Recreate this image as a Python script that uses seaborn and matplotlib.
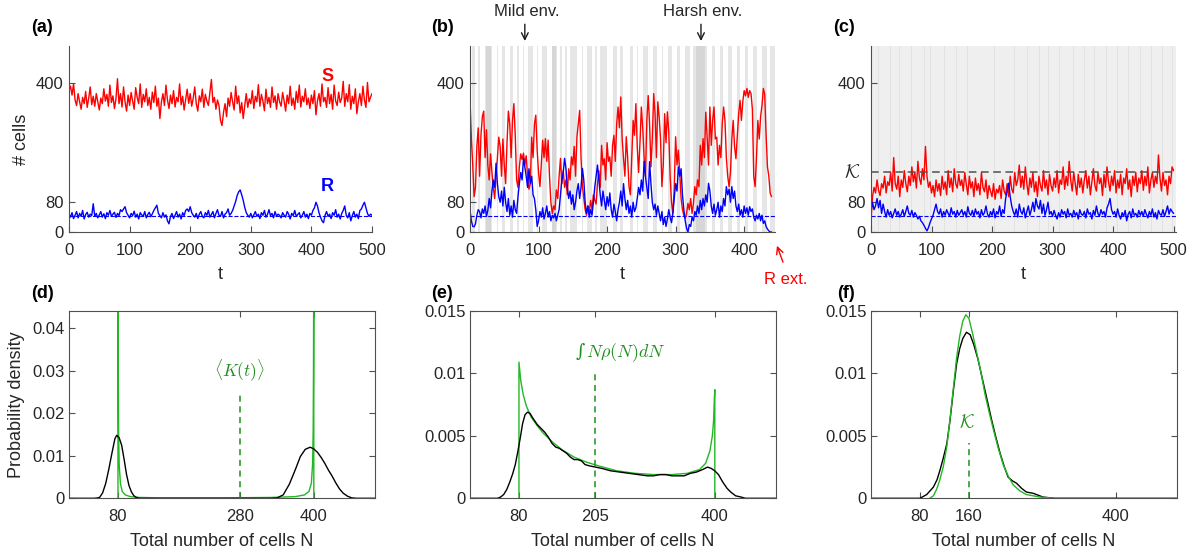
import numpy as np
import matplotlib
matplotlib.use("Agg")
import matplotlib.pyplot as plt
import matplotlib.transforms as mtransforms
import seaborn as sns

# ---------------- data ----------------
# (a) time series, sampled every 2.5 time units
STEP_A = 2.5
S_a = [380, 392, 368, 398, 355, 340, 372, 350, 330, 362, 345, 378, 335, 360, 390, 342, 365, 338, 372, 350,
       328, 360, 345, 385, 352, 370, 338, 395, 348, 366, 332, 358, 412, 345, 372, 336, 390, 350, 325, 368,
       340, 375, 352, 330, 388, 362, 345, 398, 335, 370, 350, 385, 340, 362, 330, 376, 348, 392, 338, 360,
       305, 350, 372, 340, 395, 355, 332, 368, 345, 380, 336, 362, 350, 398, 342, 365, 328, 355, 384, 346,
       372, 338, 360, 390, 345, 325, 366, 350, 384, 335, 370, 352, 340, 376, 410, 348, 362, 330, 355, 340,
       300, 286, 322, 345, 310, 360, 338, 375, 350, 328, 392, 345, 366, 320, 348, 305, 340, 372, 335, 358,
       345, 380, 332, 365, 350, 396, 338, 370, 352, 326, 384, 345, 362, 335, 390, 348, 366, 330, 372, 350,
       338, 375, 352, 325, 368, 345, 392, 340, 360, 330, 378, 348, 395, 336, 365, 350, 385, 342, 360, 332,
       368, 345, 380, 315, 352, 372, 338, 398, 350, 362, 335, 388, 345, 370, 330, 395, 352, 340, 376, 348,
       360, 405, 338, 372, 350, 396, 330, 365, 345, 385, 318, 350, 372, 340, 392, 355, 335, 402, 350, 362, 372]
R_a = [48, 40, 52, 36, 45, 55, 38, 50, 42, 58, 35, 47, 53, 40, 48, 44, 76, 42, 50, 38,
       46, 55, 40, 49, 36, 52, 45, 58, 42, 48, 53, 39, 50, 44, 60, 55, 62, 68, 52, 45,
       38, 50, 44, 56, 40, 48, 35, 52, 46, 42, 55, 38, 47, 53, 41, 49, 58, 65, 72, 50,
       44, 38, 52, 40, 46, 30, 22, 42, 50, 36, 45, 55, 40, 48, 35, 52, 44, 58, 62, 55,
       68, 52, 45, 40, 50, 36, 48, 55, 42, 38, 52, 45, 58, 40, 47, 55, 38, 50, 60, 45,
       42, 55, 38, 48, 52, 62, 45, 50, 58, 70, 82, 98, 108, 113, 100, 85, 66, 52, 45, 40,
       50, 38, 46, 55, 42, 48, 36, 52, 45, 58, 40, 47, 60, 44, 50, 38, 55, 42, 48, 45,
       38, 52, 45, 40, 55, 48, 35, 50, 44, 58, 42, 47, 52, 38, 45, 55, 40, 48, 36, 50,
       45, 58, 65, 80, 70, 52, 40, 30, 25, 45, 55, 42, 48, 36, 52, 45, 60, 40, 48, 35,
       50, 58, 70, 45, 38, 52, 30, 44, 55, 40, 48, 36, 58, 62, 72, 80, 65, 50, 42, 48, 45]

# (b) time series, sampled every 2 time units (R goes extinct)
STEP_B = 2.0
S_b = [360, 250, 180, 95, 120, 230, 280, 150, 260, 310,
       325, 200, 275, 180, 140, 210, 160, 120, 90, 150,
       200, 255, 230, 150, 250, 180, 130, 240, 325, 290,
       200, 300, 345, 260, 140, 120, 175, 210, 195, 212,
       180, 205, 150, 115, 130, 255, 200, 290, 314, 220,
       160, 122, 180, 247, 200, 251, 190, 247, 150, 80,
       50, 70, 60, 113, 90, 150, 198, 130, 165, 120,
       140, 100, 170, 140, 202, 180, 230, 150, 255, 290,
       327, 200, 122, 90, 60, 45, 70, 55, 85, 60,
       100, 86, 75, 130, 165, 120, 233, 180, 197, 140,
       240, 190, 202, 150, 233, 260, 190, 290, 336, 280,
       363, 250, 197, 150, 256, 200, 122, 100, 200, 300,
       260, 345, 230, 160, 240, 336, 280, 200, 150, 300,
       367, 290, 175, 250, 372, 318, 200, 350, 309, 250,
       122, 180, 318, 240, 323, 270, 150, 80, 50, 120,
       256, 180, 220, 160, 90, 60, 45, 37, 50, 77,
       60, 90, 50, 77, 122, 100, 140, 122, 233, 180,
       251, 200, 322, 255, 180, 336, 233, 300, 336, 250,
       255, 180, 233, 200, 290, 336, 300, 200, 150, 122,
       160, 250, 300, 230, 197, 260, 318, 354, 300, 350,
       380, 366, 386, 362, 380, 372, 330, 150, 122, 200,
       300, 250, 310, 340, 386, 370, 260, 175, 150, 104, 95]
R_b = [60, 30, 15, 14, 22, 45, 60, 55, 38, 62,
       50, 70, 42, 58, 90, 65, 110, 140, 120, 185,
       130, 95, 80, 110, 70, 120, 80, 55, 90, 45,
       70, 40, 85, 60, 50, 95, 130, 160, 140, 198,
       175, 150, 120, 170, 130, 150, 100, 90, 60, 15,
       30, 55, 40, 65, 35, 50, 70, 40, 55, 30,
       45, 38, 50, 30, 45, 60, 100, 140, 160, 198,
       170, 120, 90, 110, 75, 100, 60, 80, 110, 130,
       90, 120, 171, 140, 80, 50, 70, 40, 60, 45,
       80, 120, 150, 180, 140, 100, 70, 110, 85, 60,
       95, 70, 105, 60, 40, 75, 55, 30, 60, 80,
       110, 70, 130, 90, 60, 85, 50, 70, 40, 80,
       55, 65, 90, 120, 100, 140, 110, 190, 150, 120,
       90, 189, 130, 80, 60, 75, 45, 70, 50, 30,
       55, 20, 40, 15, 35, 60, 40, 25, 50, 90,
       130, 110, 175, 150, 170, 100, 60, 30, 10, 0,
       20, 15, 40, 30, 55, 45, 70, 50, 85, 60,
       90, 70, 100, 80, 131, 110, 70, 50, 75, 45,
       60, 80, 40, 70, 55, 90, 70, 122, 100, 115,
       80, 122, 90, 110, 70, 55, 75, 45, 60, 40,
       70, 50, 65, 45, 68, 55, 62, 40, 30, 45,
       35, 50, 30, 45, 23, 30, 15, 8, 3, 0, 0]
# harsh-environment intervals in (b)
B_HARSH = [(2.4, 7.3), (12.2, 14.6), (21.9, 31.6), (38.9, 41.4), (46.2, 51.1), (58.4, 63.3),
           (68.1, 72.0), (76.9, 78.8), (85.2, 92.5), (97.3, 99.8), (104.6, 111.9), (119.2, 126.5),
           (131.4, 133.8), (138.7, 141.1), (146.0, 155.7), (163.0, 164.5), (170.3, 177.6),
           (182.5, 184.9), (189.8, 199.5), (209.2, 214.1), (219.0, 223.8), (233.6, 238.4),
           (243.3, 245.7), (253.0, 260.3), (267.6, 272.5), (279.8, 282.2), (289.5, 294.4),
           (301.7, 306.6), (314.0, 321.2), (326.0, 345.5), (352.8, 357.7), (365.0, 369.8),
           (377.1, 382.0), (389.3, 394.2), (401.5, 406.3), (413.6, 418.5), (425.8, 433.1),
           (438.0, 445.3)]
B_DARK = [(24.0, 30.0), (120.0, 125.0), (330.0, 343.0)]
B_EXT = 445

# (c) time series, sampled every 2.5 time units
STEP_C = 2.5
S_c = [30, 95, 120, 105, 140, 112, 98, 130, 118, 150, 105, 135, 125, 160, 110, 200, 130, 115, 150, 95,
       140, 120, 165, 130, 108, 150, 125, 175, 135, 160, 118, 190, 145, 128, 170, 140, 230, 150, 120, 135,
       105, 125, 95, 140, 110, 130, 98, 150, 115, 135, 100, 165, 120, 145, 108, 170, 130, 118, 155, 125,
       140, 110, 160, 128, 100, 150, 118, 135, 95, 145, 112, 130, 100, 160, 120, 108, 140, 90, 125, 110,
       95, 130, 88, 115, 105, 125, 90, 140, 110, 100, 130, 95, 150, 115, 105, 160, 125, 140, 180, 120,
       150, 115, 175, 130, 100, 145, 120, 160, 108, 135, 95, 150, 125, 110, 165, 118, 140, 100, 155, 125,
       110, 145, 120, 165, 105, 140, 128, 175, 115, 150, 125, 190, 140, 110, 160, 130, 100, 155, 120, 145,
       105, 140, 165, 118, 150, 100, 135, 170, 125, 110, 160, 130, 145, 98, 155, 120, 175, 135, 110, 150,
       125, 165, 105, 140, 118, 155, 100, 145, 130, 170, 115, 140, 95, 150, 125, 160, 108, 145, 130, 165,
       112, 150, 125, 175, 105, 140, 160, 120, 150, 130, 207, 145, 110, 160, 125, 140, 100, 150, 130, 175, 165]
R_c = [55, 80, 60, 70, 90, 65, 85, 50, 75, 55, 40, 60, 45, 55, 38, 50, 62, 45, 55, 40,
       48, 60, 42, 55, 70, 50, 45, 58, 40, 52, 45, 35, 42, 30, 25, 18, 10, 3, 12, 25,
       35, 45, 60, 75, 55, 48, 62, 40, 55, 45, 60, 50, 42, 65, 48, 55, 40, 58, 45, 52,
       60, 45, 55, 40, 68, 50, 45, 58, 42, 62, 48, 55, 38, 60, 45, 52, 70, 48, 40, 55,
       45, 62, 38, 55, 48, 70, 42, 60, 50, 90, 110, 131, 95, 70, 55, 45, 62, 40, 75, 55,
       48, 65, 38, 55, 70, 45, 60, 80, 55, 90, 70, 62, 85, 50, 75, 45, 60, 80, 48, 55,
       42, 58, 45, 35, 52, 40, 60, 48, 55, 38, 62, 45, 50, 40, 58, 45, 52, 35, 60, 48,
       45, 55, 38, 62, 48, 52, 35, 58, 45, 70, 50, 42, 60, 48, 55, 40, 65, 75, 90, 60,
       48, 55, 40, 62, 45, 35, 52, 42, 58, 30, 48, 55, 38, 62, 45, 50, 40, 58, 45, 55,
       42, 60, 48, 38, 55, 45, 62, 40, 52, 35, 58, 48, 45, 60, 42, 55, 70, 48, 62, 55, 50]
C_STRIPES = [12, 31, 47, 66, 88, 97, 121, 140, 158, 176, 203, 219, 236, 258, 277, 293, 311,
             334, 352, 368, 389, 407, 425, 444, 463, 481, 497]
R_MEAN = 43
K_VAL = 160

# (d) densities
D_N_black = [0, 40, 45, 50, 55, 60, 65, 70, 75, 78, 82, 86, 90, 94, 98, 102, 106, 110, 115,
             330, 340, 350, 360, 370, 378, 386, 394, 400, 406, 412, 418, 424, 430, 436, 442,
             448, 455, 462, 470, 500]
D_black = [0, 0, 0.00005, 0.0002, 0.0013, 0.0035, 0.0068, 0.0105, 0.0140, 0.0148, 0.0142,
           0.0125, 0.0092, 0.0056, 0.0030, 0.0015, 0.0006, 0.0002, 0,
           0, 0.0001, 0.0008, 0.0033, 0.0068, 0.0098, 0.0115, 0.0120, 0.0116, 0.0108, 0.0096,
           0.0082, 0.0066, 0.0052, 0.0036, 0.0022, 0.0012, 0.0005, 0.0001, 0, 0]
D_N_green = [80, 80, 80.5, 81, 82, 84, 87, 92, 100, 115, 150, 250, 330, 370, 385, 392, 396,
             398, 399, 399.5, 400, 400]
D_green = [0, 0.06, 0.03, 0.016, 0.008, 0.0035, 0.0016, 0.0008, 0.0004, 0.0002, 0.0001,
           0.0001, 0.0002, 0.0004, 0.0008, 0.0016, 0.0035, 0.008, 0.016, 0.03, 0.06, 0]
D_MARK, D_MARK_H = 280, 0.0243

# (e) densities
E_N_black = [0, 45, 50, 55, 60, 65, 70, 74, 78, 82, 86, 90, 94, 98, 103, 110, 116, 122, 128,
             134, 140, 146, 152, 158, 164, 170, 176, 182, 188, 195, 205, 215, 230, 245, 260,
             275, 290, 300, 310, 320, 330, 340, 350, 360, 370, 380, 388, 394, 400, 406, 413,
             420, 426, 434, 443, 450, 500]
E_black = [0, 0, 0.0001, 0.0003, 0.0007, 0.0013, 0.0020, 0.0027, 0.0037, 0.0048, 0.0060,
           0.0067, 0.0069, 0.0068, 0.0064, 0.0059, 0.0056, 0.0053, 0.0049, 0.0044, 0.0041,
           0.0040, 0.0038, 0.0036, 0.0033, 0.0031, 0.0031, 0.0030, 0.0027, 0.0026, 0.0025,
           0.0024, 0.0022, 0.0021, 0.0020, 0.0019, 0.0018, 0.0018, 0.0019, 0.0019, 0.0018,
           0.0018, 0.0018, 0.0020, 0.0021, 0.0023, 0.0025, 0.0024, 0.0022, 0.0019, 0.0013,
           0.0008, 0.0005, 0.0002, 0.0001, 0, 0]
E_N_green = [80, 80, 83, 87, 92, 100, 110, 120, 135, 150, 170, 190, 210, 240, 270, 300, 330,
             355, 375, 385, 392, 396, 398, 399.3, 400, 400]
E_green = [0, 0.0109, 0.0094, 0.0083, 0.0074, 0.0065, 0.0058, 0.0052, 0.0045, 0.0039, 0.0033,
           0.0029, 0.0026, 0.0022, 0.0020, 0.0019, 0.0019, 0.0020, 0.0023, 0.0028, 0.0038,
           0.0050, 0.0062, 0.0080, 0.0087, 0]
E_MARK, E_MARK_H = 205, 0.0101

# (f) densities
F_N_black = [0, 80, 91, 102, 108, 113, 118, 124, 129, 135, 140, 145, 150, 156, 162, 168, 175,
             180, 186, 192, 197, 204, 211, 218, 224, 231, 238, 246, 254, 265, 281, 300, 500]
F_black = [0, 0, 0.0003, 0.0009, 0.0015, 0.0023, 0.0032, 0.0044, 0.0062, 0.0088, 0.0108,
           0.0120, 0.0128, 0.0133, 0.0131, 0.0123, 0.0111, 0.0100, 0.0087, 0.0074, 0.0063,
           0.0049, 0.0036, 0.0025, 0.0017, 0.0014, 0.0012, 0.0008, 0.0005, 0.0004, 0.0001, 0, 0]
F_N_green = [96, 102, 107, 112, 118, 124, 129, 135, 140, 145, 150, 155, 160, 166, 173, 180,
             186, 193, 200, 208, 216, 224, 232, 243, 254, 276, 300, 400]
F_green = [0, 0.0002, 0.0007, 0.0014, 0.0025, 0.0042, 0.0063, 0.0090, 0.0113, 0.0130, 0.0142,
           0.0147, 0.0144, 0.0132, 0.0116, 0.0100, 0.0084, 0.0069, 0.0055, 0.0040, 0.0027,
           0.0018, 0.0011, 0.0006, 0.0003, 0.0001, 0, 0]
F_MARK, F_MARK_H = 160, 0.00445

# ---------------- style ----------------
sns.set_theme(style="ticks")
plt.rcParams.update({
    "font.family": ["Liberation Sans", "DejaVu Sans"],
    "mathtext.fontset": "cm",
    "axes.edgecolor": "#505050",
    "axes.linewidth": 0.8,
    "xtick.direction": "in", "ytick.direction": "in",
    "xtick.color": "#505050", "ytick.color": "#505050",
    "xtick.labelcolor": "#262626", "ytick.labelcolor": "#262626",
    "xtick.labelsize": 12, "ytick.labelsize": 12,
    "xtick.major.size": 4, "ytick.major.size": 4,
    "xtick.major.width": 0.8, "ytick.major.width": 0.8,
    "axes.facecolor": "white",
})

W, H = 1195, 552
fig = plt.figure(figsize=(W / 100, H / 100), dpi=100)


def add_ax(l, t, r, b):
    return fig.add_axes([l / W, 1 - b / H, (r - l) / W, (b - t) / H])


RED, BLUE = "#ff0000", "#0000ff"
GREEN, DGREEN = "#22b822", "#1f8f1f"
TXT = "#262626"


def line(ax, x, y, color, lw=1.0, z=2):
    sns.lineplot(x=np.asarray(x, float), y=np.asarray(y, float), ax=ax, color=color,
                 linewidth=lw, estimator=None, sort=False, zorder=z)


def style_top(ax, xmax, xticks):
    ax.set_xlim(0, xmax)
    ax.set_ylim(0, 500)
    ax.set_xticks(xticks)
    ax.set_yticks([0, 80, 400])
    ax.spines["top"].set_visible(False)
    ax.spines["right"].set_visible(False)
    ax.tick_params(axis="x", pad=8)
    ax.tick_params(axis="y", pad=4)
    ax.set_xlabel("")
    ax.set_ylabel("")


def style_bottom(ax, xticks, ymax, yticks, ylabels):
    ax.set_xlim(0, 500)
    ax.set_ylim(0, ymax)
    ax.set_xticks(xticks)
    ax.set_yticks(yticks)
    ax.set_yticklabels(ylabels)
    ax.tick_params(top=True, right=True)
    ax.tick_params(axis="x", pad=8)
    ax.tick_params(axis="y", pad=3)
    ax.set_xlabel("")
    ax.set_ylabel("")


# ---------------- (a) ----------------
axa = add_ax(69, 46, 372, 232)
ta = np.arange(len(S_a)) * STEP_A
line(axa, ta, S_a, RED)
line(axa, ta, R_a, BLUE)
axa.axhline(R_MEAN, color=BLUE, ls="--", lw=0.8, zorder=1)
style_top(axa, 500, [0, 100, 200, 300, 400, 500])
axa.text(427, 419, "S", color=RED, fontweight="bold", fontsize=13, ha="center", va="center")
axa.text(427, 121, "R", color=BLUE, fontweight="bold", fontsize=13, ha="center", va="center")

# ---------------- (b) ----------------
axb = add_ax(470, 46, 775, 232)
for a, b in B_HARSH:
    axb.axvspan(a, b, color="#e6e6e6", lw=0, zorder=0)
for a, b in B_DARK:
    axb.axvspan(a, b, color="#d6d6d6", lw=0, zorder=0)
tb_s = np.arange(len(S_b)) * STEP_B
tb_r = np.arange(len(R_b)) * STEP_B
line(axb, tb_s, S_b, RED)
line(axb, tb_r, R_b, BLUE)
axb.axhline(R_MEAN, color=BLUE, ls="--", lw=0.8, zorder=1)
style_top(axb, B_EXT, [0, 100, 200, 300, 400])
for xa, lab, xt in [(80, "Mild env.", 83), (337, "Harsh env.", 340)]:
    axb.annotate("", xy=(xa, 506), xytext=(xa, 566),
                 arrowprops=dict(arrowstyle="->", color="k", lw=1.0, mutation_scale=12),
                 annotation_clip=False)
    axb.text(xt, 592, lab, fontsize=12, ha="center", va="center", color=TXT)
axb.annotate("", xy=(446.5, -30), xytext=(458, -88),
             arrowprops=dict(arrowstyle="->", color=RED, lw=1.0, mutation_scale=12),
             annotation_clip=False)
axb.text(461, -128, "R ext.", color=RED, fontsize=12, ha="center", va="center", clip_on=False)

# ---------------- (c) ----------------
axc = add_ax(871, 46, 1176, 232)
axc.set_facecolor("#efefef")
for s in C_STRIPES:
    axc.axvspan(s, s + 1.5, color="#e2e2e2", lw=0, zorder=0)
tc = np.arange(len(S_c)) * STEP_C
line(axc, tc, S_c, RED)
line(axc, tc, R_c, BLUE)
axc.axhline(R_MEAN, color=BLUE, ls="--", lw=0.8, zorder=1)
axc.axhline(K_VAL, color="#505050", ls=(0, (5, 3)), lw=1.1, zorder=3)
style_top(axc, 504, [0, 100, 200, 300, 400, 500])
trans_c = mtransforms.blended_transform_factory(axc.transAxes, axc.transData)
axc.text(-0.035, K_VAL, r"$\mathcal{K}$", transform=trans_c, fontsize=14, ha="right",
         va="center", color=TXT)

# ---------------- (d) ----------------
axd = add_ax(69, 311, 375, 498.3)
line(axd, D_N_green, D_green, GREEN)
line(axd, D_N_black, D_black, "black")
axd.plot([D_MARK, D_MARK], [0, D_MARK_H], color=DGREEN, ls=(0, (4, 3)), lw=1.1)
axd.text(D_MARK - 2, 0.0298, r"$\langle K(t)\rangle$", color=DGREEN, fontsize=12.5,
         ha="center", va="center")
style_bottom(axd, [80, 280, 400], 0.044, [0, 0.01, 0.02, 0.03, 0.04],
             ["0", "0.01", "0.02", "0.03", "0.04"])

# ---------------- (e) ----------------
axe = add_ax(470, 311, 776, 498.3)
line(axe, E_N_green, E_green, GREEN)
line(axe, E_N_black, E_black, "black")
axe.plot([E_MARK, E_MARK], [0, E_MARK_H], color=DGREEN, ls=(0, (4, 3)), lw=1.1)
axe.text(180, 0.0117, "\u222b", family=["DejaVu Serif"], fontstyle="italic", color=DGREEN,
         fontsize=13, ha="center", va="center")
axe.text(189, 0.0117, r"$N\rho(N)dN$", color=DGREEN, fontsize=13, ha="left", va="center")
style_bottom(axe, [80, 205, 400], 0.015, [0, 0.005, 0.01, 0.015],
             ["0", "0.005", "0.01", "0.015"])

# ---------------- (f) ----------------
axf = add_ax(871, 311, 1177, 498.3)
line(axf, F_N_black, F_black, "black")
line(axf, F_N_green, F_green, GREEN)
axf.plot([F_MARK, F_MARK], [0, F_MARK_H], color=DGREEN, ls=(0, (4, 3)), lw=1.1)
axf.text(156, 0.0061, r"$\mathcal{K}$", color=DGREEN, fontsize=13.5, ha="center", va="center")
style_bottom(axf, [80, 160, 400], 0.015, [0, 0.005, 0.01, 0.015],
             ["0", "0.005", "0.01", "0.015"])

# ---------------- labels ----------------
for x, y, s in [(42, 28, "(a)"), (442.5, 28, "(b)"), (844, 28, "(c)"),
                (42, 293.5, "(d)"), (442.5, 293.5, "(e)"), (845.5, 293.5, "(f)")]:
    fig.text(x / W, 1 - y / H, s, fontsize=13, fontweight="bold", ha="center", va="center",
             color="black")

for ax in (axa, axb, axc):
    bb = ax.get_position()
    fig.text(bb.x0 + bb.width / 2, 1 - 279 / H, "t", fontsize=13, ha="center",
             va="baseline", color=TXT)
for ax in (axd, axe, axf):
    bb = ax.get_position()
    fig.text(bb.x0 + bb.width / 2, 1 - 546 / H, "Total number of cells N", fontsize=13,
             ha="center", va="baseline", color=TXT)

fig.text(21 / W, 1 - 139 / H, "# cells", fontsize=13, rotation=90, ha="center",
         va="center", color=TXT)
fig.text(16.5 / W, 1 - 405 / H, "Probability density", fontsize=13, rotation=90,
         ha="center", va="center", color=TXT)

fig.savefig("out.png", dpi=100)
